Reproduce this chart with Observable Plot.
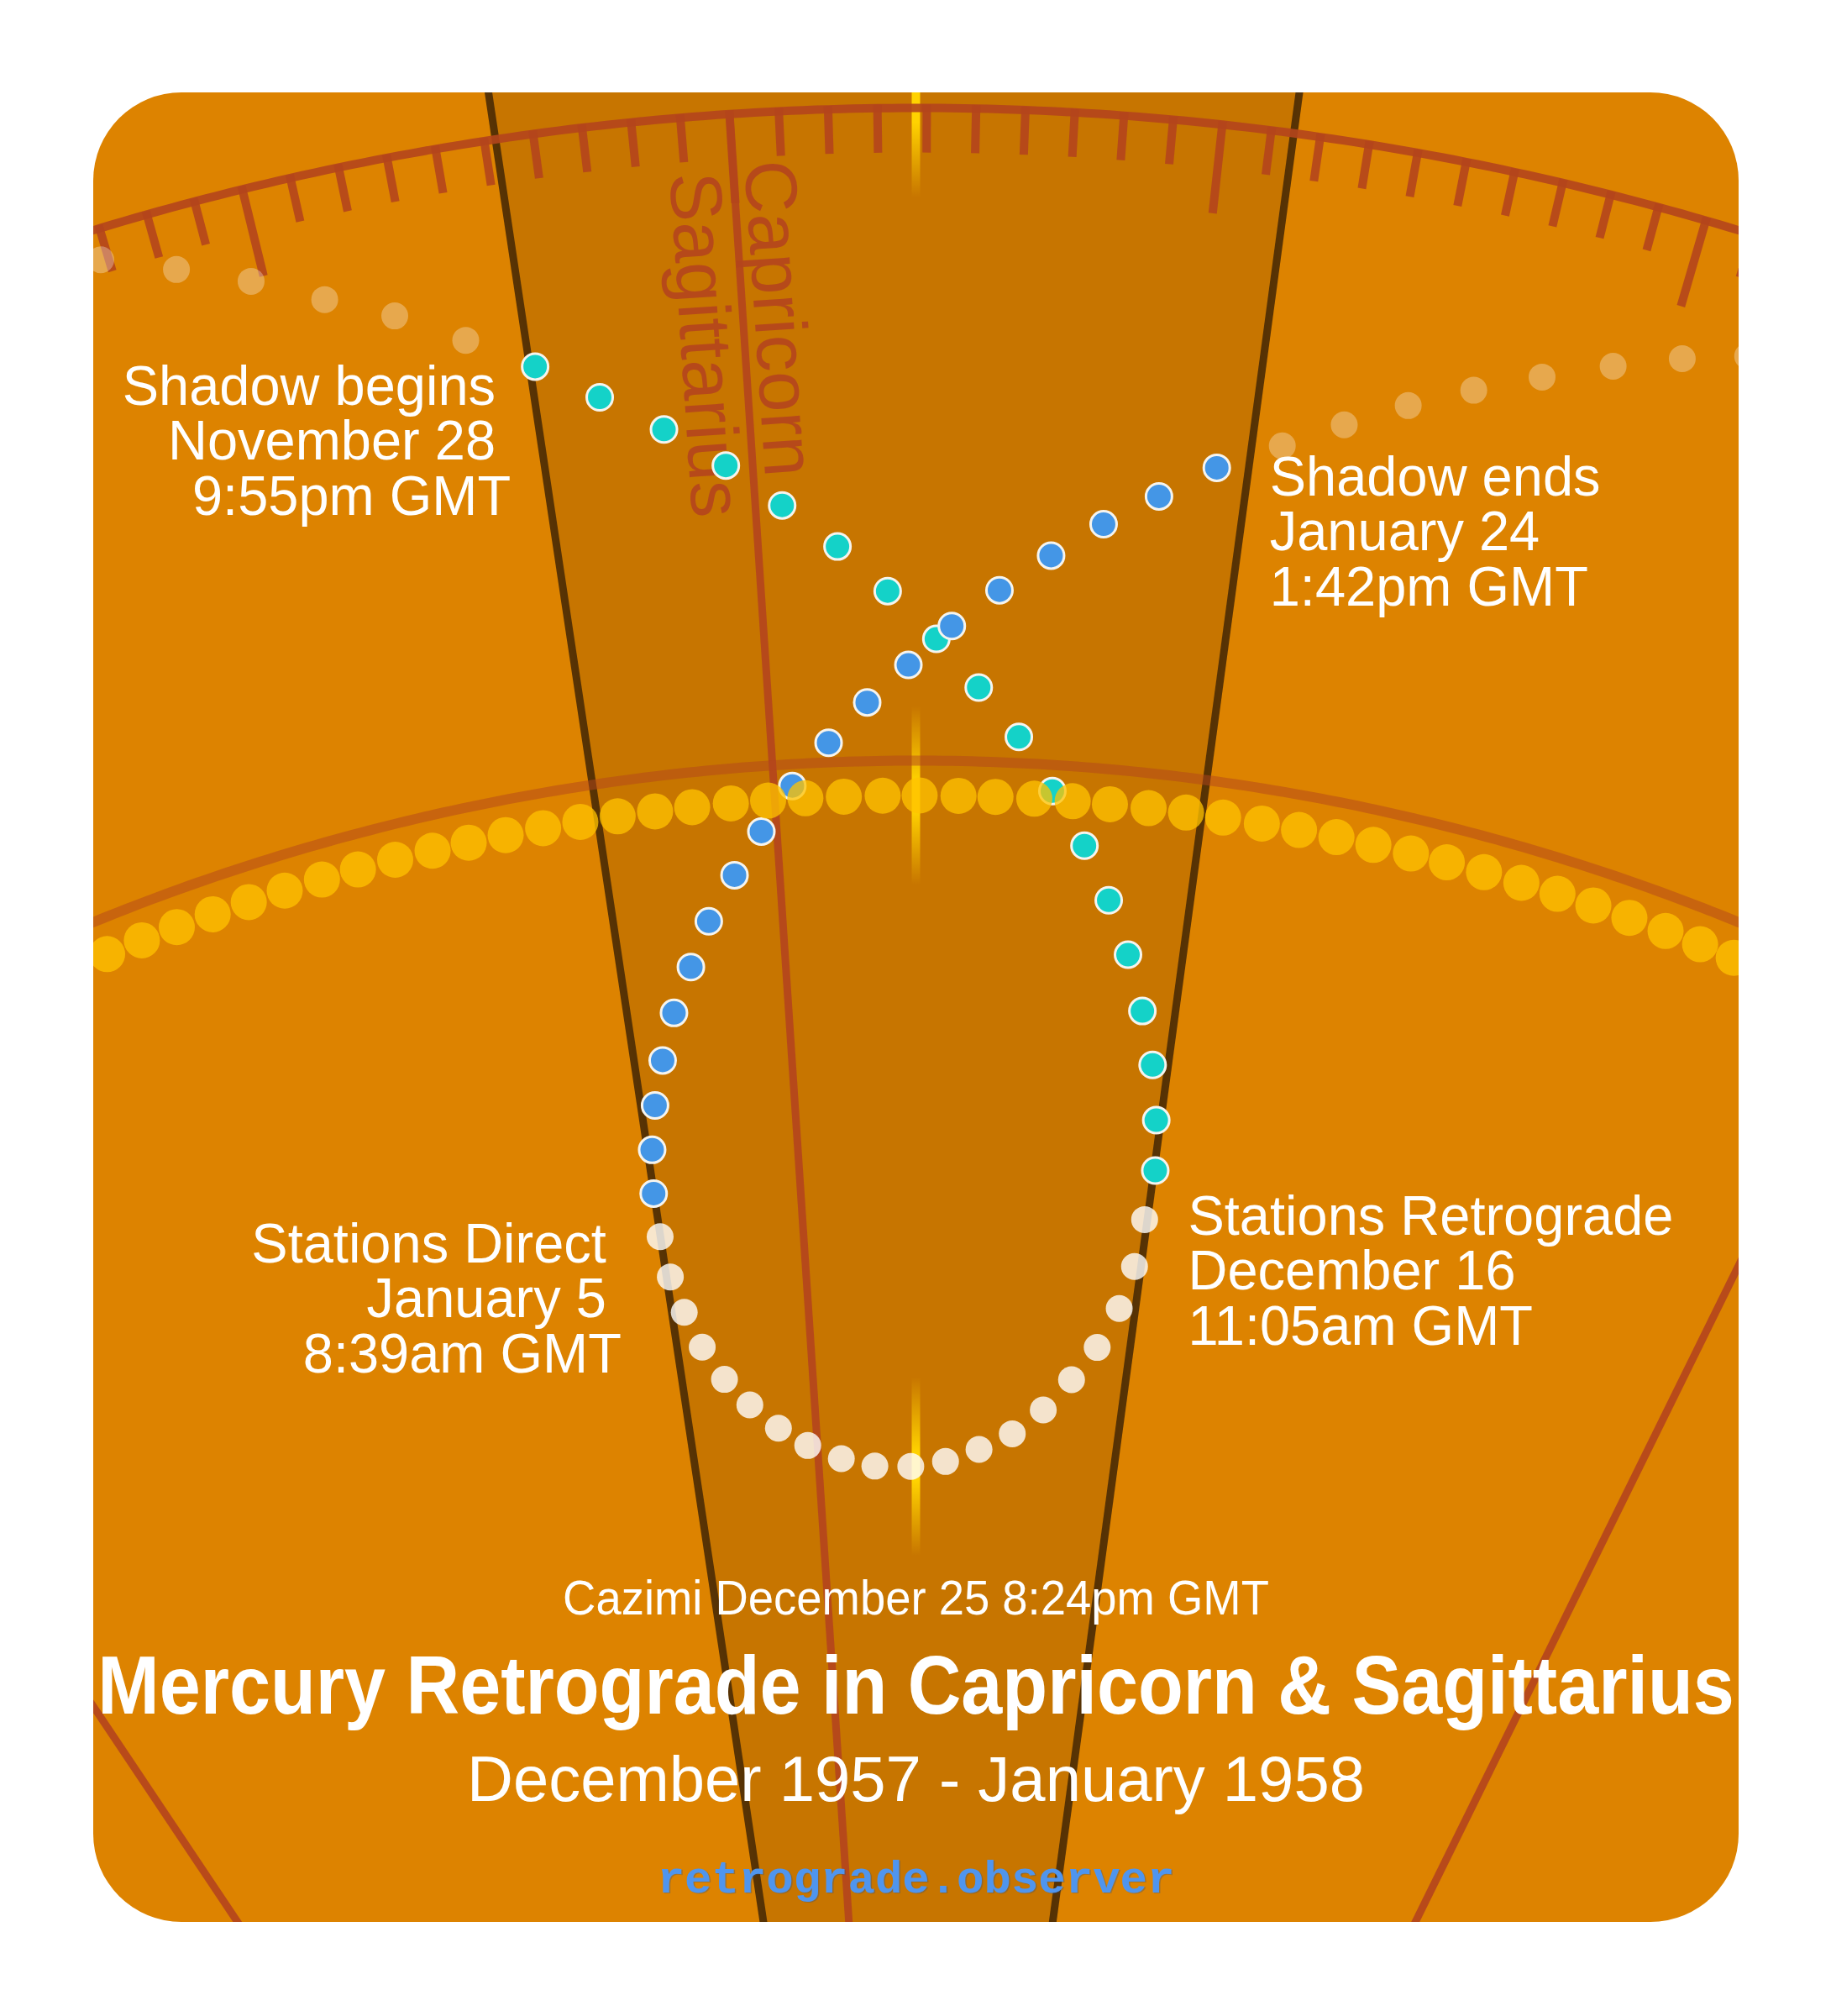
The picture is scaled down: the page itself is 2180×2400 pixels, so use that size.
<!DOCTYPE html>
<html>
<head>
<meta charset="utf-8">
<script src="https://cdn.jsdelivr.net/npm/d3@7"></script>
<script src="https://cdn.jsdelivr.net/npm/@observablehq/plot@0.6"></script>
<style>
  html, body { margin: 0; padding: 0; background: #ffffff; }
</style>
</head>
<body>
<div id="chart"></div>
<script>
// ---------------- data: ecliptic longitude (deg) and geocentric distance (AU) ----------------
const cazimiLon = 273.78;          // Sun–Mercury conjunction, Dec 25 1957
const stationRetroLon = 281.46;    // Dec 16 1957
const stationDirectLon = 265.23;   // Jan 5 1958
const signBoundaryLon = [240, 270, 300];
const signNames = ["Sagittarius", "Capricorn"];
const eclipticRingAU = 1.3;
const earthOrbitAU = 1.0;
const sunDistAU = 0.984;

// Sun, one dot per day
const sunLon = [251.58, 252.58, 253.58, 254.60, 255.62, 256.63, 257.67, 258.67, 259.70, 260.73,
  261.72, 262.73, 263.75, 264.76, 265.77, 266.78, 267.78, 268.82, 269.82, 270.82, 271.85, 272.89,
  273.88, 274.92, 275.91, 276.95, 277.98, 278.98, 280.02, 281.03, 282.03, 283.08, 284.09, 285.11,
  286.12, 287.15, 288.14, 289.17, 290.21, 291.22, 292.23, 293.25, 294.28, 295.27, 296.24];

// Mercury before the shadow (faint)
const preLon  = [256.84, 258.28, 259.72, 261.14, 262.53, 263.94];
const preDist = [1.286, 1.272, 1.258, 1.242, 1.228, 1.211];

// Mercury in the pre-retrograde shadow (Nov 28 – Dec 16)
const shadowInLon  = [265.35, 266.68, 268.04, 269.38, 270.63, 271.90, 273.09, 274.29, 275.38,
  276.46, 277.42, 278.39, 279.19, 279.89, 280.49, 280.99, 281.32, 281.50];
const shadowInDist = [1.194, 1.176, 1.158, 1.139, 1.119, 1.099, 1.078, 1.056, 1.034,
  1.012, 0.988, 0.964, 0.940, 0.916, 0.891, 0.867, 0.842, 0.819];

// Mercury retrograde (Dec 16 – Jan 5)
const retroLon  = [281.37, 281.24, 280.90, 280.29, 279.49, 278.55, 277.45, 276.21, 274.93, 273.58,
  272.18, 270.89, 269.63, 268.57, 267.59, 266.77, 266.12, 265.66, 265.36, 265.22];
const retroDist = [0.796, 0.774, 0.754, 0.735, 0.719, 0.704, 0.692, 0.684, 0.678, 0.6756,
  0.676, 0.680, 0.687, 0.696, 0.708, 0.721, 0.737, 0.754, 0.771, 0.790];

// Mercury in the post-retrograde shadow (Jan 5 – Jan 24)
const shadowOutLon  = [265.22, 265.38, 265.67, 266.09, 266.61, 267.26, 267.91, 268.75, 269.58,
  270.49, 271.50, 272.53, 273.59, 274.67, 275.82, 277.03, 278.23, 279.47, 280.73];
const shadowOutDist = [0.810, 0.830, 0.850, 0.870, 0.891, 0.911, 0.931, 0.951, 0.970,
  0.990, 1.009, 1.027, 1.044, 1.062, 1.079, 1.096, 1.112, 1.127, 1.143];

// Mercury after the shadow (faint)
const postLon  = [282.15, 283.46, 284.79, 286.14, 287.53, 288.96, 290.34, 291.65];
const postDist = [1.157, 1.171, 1.185, 1.198, 1.211, 1.224, 1.236, 1.246];

// texts
const labelShadowBegins = ["Shadow begins\u00a0", "November 28\u00a0", "9:55pm GMT"];
const labelShadowEnds = ["Shadow ends", "January 24", "1:42pm GMT"];
const labelStationsRetro = ["Stations Retrograde", "December 16", "11:05am GMT"];
const labelStationsDirect = ["Stations Direct\u00a0", "January 5\u00a0", "8:39am GMT"];
const cazimiText = "Cazimi December 25 8:24pm GMT";
const titleText = "Mercury Retrograde in Capricorn & Sagittarius";
const subtitleText = "December 1957 - January 1958";
const siteText = "retrograde.observer";

// ---------------- layout ----------------
const W = 2180, H = 2400;
const CX = 1090, CY = 3495, PX_PER_AU = 2590;
const SANS = "'Liberation Sans', Arial, Helvetica, sans-serif";
const MONO = "'Liberation Mono', 'Courier New', monospace";
const RED = "#B4451C";

const rad = Math.PI / 180;
const toXY = (lon, d) => ({x: d * Math.sin((lon - cazimiLon) * rad), y: d * Math.cos((lon - cazimiLon) * rad)});
const series = (lons, dists) => lons.map((lon, i) => ({lon, d: dists[i], ...toXY(lon, dists[i])}));

const pre = series(preLon, preDist);
const shadowIn = series(shadowInLon, shadowInDist);
const retro = series(retroLon, retroDist);
const shadowOut = series(shadowOutLon, shadowOutDist);
const post = series(postLon, postDist);
const sun = sunLon.map(lon => ({lon, ...toXY(lon, sunDistAU)}));

const ring = d => d3.range(200, 350.001, 0.25).map(lon => toXY(lon, d));
const ticks = d3.range(225, 326).map(lon => {
  const len = lon % 10 === 0 ? 0.041 : 0.0205;
  return {a: toXY(lon, eclipticRingAU + 0.0015), b: toXY(lon, eclipticRingAU - len)};
});
const FAR = 2.4;
const origin = {x: 0, y: 0};
const sector = [origin, toXY(stationDirectLon, FAR), toXY(stationRetroLon, FAR), origin];

const cazimiCenters = [retroDist[9], sunDistAU, eclipticRingAU];
const cazHalf = 0.041;
const cazSegs = cazimiCenters.map((c, i) => ({i, a: toXY(cazimiLon, c + cazHalf), b: toXY(cazimiLon, c - cazHalf)}));

const alpha = signBoundaryLon[1] - cazimiLon;
const signRotate = 90 + alpha;
const perpX = Math.cos(alpha * rad), perpY = Math.sin(alpha * rad);
const capAnchor = toXY(signBoundaryLon[1], 1.2776);
const sagAnchor = toXY(signBoundaryLon[1], 1.2743);

const labelFont = 67, labelLH = 65.5 / 67;
const labelMark = (p, lines, anchor, dx, dy) => Plot.text([{p, t: lines.join("\n")}], {
  x: d => d.p.x, y: d => d.p.y, text: d => d.t,
  textAnchor: anchor, lineAnchor: "top", lineHeight: labelLH,
  dx, dy, fontSize: labelFont, fontFamily: SANS, fill: "white"
});

const link = (data, get, opts) => Plot.link(data, {
  x1: d => get(d)[0].x, y1: d => get(d)[0].y, x2: d => get(d)[1].x, y2: d => get(d)[1].y, ...opts
});

const plot = Plot.plot({
  width: W, height: H, margin: 0,
  x: {domain: [-CX / PX_PER_AU, (W - CX) / PX_PER_AU], axis: null},
  y: {domain: [(CY - H) / PX_PER_AU, CY / PX_PER_AU], axis: null},
  marks: [
    Plot.frame({fill: "#DD8300", stroke: "none"}),
    Plot.line(sector, {x: "x", y: "y", fill: "#C77500", stroke: "none"}),
    // cazimi gradient segments
    ...cazSegs.map(s => link([s], d => [d.a, d.b], {stroke: `url(#caz${s.i})`, strokeWidth: 10, strokeLinecap: "butt"})),
    // shadow boundaries
    link([stationDirectLon, stationRetroLon], lon => [origin, toXY(lon, FAR)], {stroke: "#4C2C04", strokeOpacity: 0.92, strokeWidth: 9}),
    // sign boundaries
    link(signBoundaryLon, lon => [origin, toXY(lon, eclipticRingAU)], {stroke: RED, strokeOpacity: 0.92, strokeWidth: 9}),
    // Earth orbit (1 AU)
    Plot.line(ring(earthOrbitAU), {x: "x", y: "y", stroke: RED, strokeOpacity: 0.5, strokeWidth: 12}),
    // ecliptic ring and ticks
    Plot.line(ring(eclipticRingAU), {x: "x", y: "y", stroke: RED, strokeOpacity: 0.9, strokeWidth: 10}),
    link(ticks, d => [d.a, d.b], {stroke: RED, strokeOpacity: 0.9, strokeWidth: 10, strokeLinecap: "butt"}),
    // sign names
    Plot.text([signNames[1]], {x: () => capAnchor.x, y: () => capAnchor.y, text: d => d,
      rotate: signRotate, textAnchor: "start", lineAnchor: "bottom", dx: 14 * perpX, dy: 14 * perpY,
      fontSize: 87, fontFamily: SANS, fill: RED, fillOpacity: 0.92}),
    Plot.text([signNames[0]], {x: () => sagAnchor.x, y: () => sagAnchor.y, text: d => d,
      rotate: signRotate, textAnchor: "start", lineAnchor: "top", dx: -14 * perpX, dy: -14 * perpY,
      fontSize: 87, fontFamily: SANS, fill: RED, fillOpacity: 0.92}),
    // Mercury
    Plot.dot(pre, {x: "x", y: "y", r: 16, fill: "white", fillOpacity: 0.3}),
    Plot.dot(post, {x: "x", y: "y", r: 16, fill: "white", fillOpacity: 0.3}),
    Plot.dot(shadowIn, {x: "x", y: "y", r: 15.5, fill: "#14D2C8", stroke: "#F6F4EE", strokeWidth: 3}),
    Plot.dot(shadowOut, {x: "x", y: "y", r: 15.5, fill: "#4496E6", stroke: "#F6F4EE", strokeWidth: 3}),
    Plot.dot(retro, {x: "x", y: "y", r: 16, fill: "white", fillOpacity: 0.8}),
    // Sun
    Plot.dot(sun, {x: "x", y: "y", r: 21.5, fill: "#FFC300", fillOpacity: 0.76}),
    // event labels
    labelMark(shadowIn[0], labelShadowBegins, "end", -29, -1),
    labelMark(shadowOut[shadowOut.length - 1], labelShadowEnds, "start", 63, -13.5),
    labelMark(shadowIn[shadowIn.length - 1], labelStationsRetro, "start", 39, 29.5),
    labelMark(retro[retro.length - 1], labelStationsDirect, "end", -46, -15.7),
    // titles
    Plot.text([cazimiText], {frameAnchor: "top", text: d => d, lineAnchor: "bottom", dy: 1921,
      fontSize: 57, fontFamily: SANS, fill: "white"}),
    Plot.text([titleText], {frameAnchor: "top", text: d => d, lineAnchor: "bottom", dy: 2039,
      fontSize: 99, fontWeight: "bold", fontFamily: SANS, fill: "white"}),
    Plot.text([subtitleText], {frameAnchor: "top", text: d => d, lineAnchor: "bottom", dy: 2143,
      fontSize: 76, fontFamily: SANS, fill: "white"}),
    Plot.text([siteText], {frameAnchor: "top", text: d => d, lineAnchor: "bottom", dy: 2253.5, dx: 1.5,
      fontSize: 54, fontWeight: "bold", fontFamily: MONO, fill: "#1E4C8A", fillOpacity: 0.3}),
    Plot.text([siteText], {frameAnchor: "top", text: d => d, lineAnchor: "bottom", dy: 2252,
      fontSize: 54, fontWeight: "bold", fontFamily: MONO, fill: "#4F95EE"})
  ]
});

// gradients for the cazimi segments
const sx = plot.scale("x"), sy = plot.scale("y");
const ns = "http://www.w3.org/2000/svg";
const defs = document.createElementNS(ns, "defs");
cazSegs.forEach(s => {
  const g = document.createElementNS(ns, "linearGradient");
  g.setAttribute("id", `caz${s.i}`);
  g.setAttribute("gradientUnits", "userSpaceOnUse");
  g.setAttribute("x1", sx.apply(s.a.x)); g.setAttribute("y1", sy.apply(s.a.y));
  g.setAttribute("x2", sx.apply(s.b.x)); g.setAttribute("y2", sy.apply(s.b.y));
  [[0, 0], [0.42, 1], [0.58, 1], [1, 0]].forEach(([o, op]) => {
    const st = document.createElementNS(ns, "stop");
    st.setAttribute("offset", o);
    st.setAttribute("stop-color", "#FFD200");
    st.setAttribute("stop-opacity", op);
    g.appendChild(st);
  });
  defs.appendChild(g);
});
plot.insertBefore(defs, plot.firstChild);

// slightly condensed lettering, as in the original
const condense = new Map([
  [titleText, 0.89],
  [cazimiText, 0.955],
  [labelShadowBegins.join(""), 0.97],
  [labelShadowEnds.join(""), 0.97],
  [labelStationsRetro.join(""), 0.97],
  [labelStationsDirect.join(""), 0.97]
]);
plot.querySelectorAll("text").forEach(t => {
  const k = condense.get(t.textContent);
  if (k) {
    const tr = t.getAttribute("transform") || "";
    t.setAttribute("transform", `${tr} scale(${k},1)`);
  }
});

plot.style.clipPath = "inset(110px 110px 112px 111px round 105px)";
plot.style.background = "transparent";
document.getElementById("chart").appendChild(plot);
</script>
</body>
</html>
